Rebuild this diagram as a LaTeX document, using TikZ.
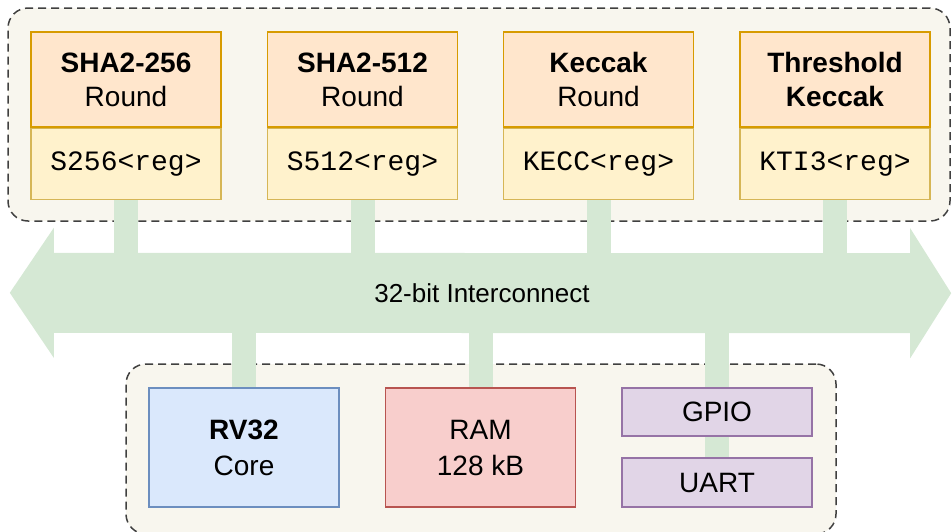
\documentclass[tikz,border=0pt]{standalone}
\usepackage{fontspec}
\setmainfont{Liberation Sans}
\setmonofont{Liberation Mono}
\usetikzlibrary{positioning,backgrounds}
\definecolor{grpfill}{HTML}{F8F6EE}
\definecolor{busgreen}{HTML}{D5E8D4}
\definecolor{hdrfill}{HTML}{FFE6CC}
\definecolor{hdrline}{HTML}{D79B00}
\definecolor{regfill}{HTML}{FFF2CC}
\definecolor{regline}{HTML}{D6B656}
\definecolor{cpufill}{HTML}{DAE8FC}
\definecolor{cpuline}{HTML}{6C8EBF}
\definecolor{ramfill}{HTML}{F8CECC}
\definecolor{ramline}{HTML}{B85450}
\definecolor{perfill}{HTML}{E1D5E7}
\definecolor{perline}{HTML}{9673A6}
\tikzset{
  group/.style={draw=black!75, fill=grpfill, dash pattern=on 8pt off 5pt, line width=1.5pt, rounded corners=20pt},
  hdr/.style={draw=hdrline, fill=hdrfill, line width=1.5pt, minimum width=190pt, minimum height=95pt, inner sep=0pt, align=center, font=\fontsize{28}{34}\selectfont},
  regs/.style={draw=regline, fill=regfill, line width=1.5pt, minimum width=190pt, minimum height=71pt, inner sep=0pt, font=\fontsize{28}{34}\ttfamily},
  blk/.style={line width=1.5pt, minimum width=190pt, inner sep=0pt, align=center, font=\fontsize{28}{36}\selectfont},
  stem/.style={draw=busgreen, line width=24pt},
  bus/.style={minimum width=856pt, minimum height=80pt, inner sep=0pt, font=\fontsize{26}{32}\selectfont}
}
\begin{document}
\begin{tikzpicture}[x=1pt,y=-1pt]
\useasboundingbox (0,0) rectangle (952,531);
\node[group, minimum width=942pt, minimum height=213pt] (accel) at (479,114.5) {};
\node[group, minimum width=710pt, minimum height=170pt] (soc) at (481,449) {};
\node[bus] (bus) at (482,293) {32-bit Interconnect};
\begin{scope}[on background layer]
\fill[busgreen] (bus.north west) -- ++(0,-25) -- ++(-44,65) -- ++(44,65) -- ++(0,-25)
  -- (bus.south east) -- ++(0,25) -- ++(41,-65) -- ++(-41,-65) -- ++(0,25) -- cycle;
\end{scope}
\node[hdr] (shaA) at (126,79.5) {\bfseries SHA2-256\\Round};
\node[regs, below=0pt of shaA] (shaAreg) {S256<reg>};
\node[hdr] (shaB) at (362.5,79.5) {\bfseries SHA2-512\\Round};
\node[regs, below=0pt of shaB] (shaBreg) {S512<reg>};
\node[hdr] (kecc) at (598.5,79.5) {\bfseries Keccak\\Round};
\node[regs, below=0pt of kecc] (keccreg) {KECC<reg>};
\node[hdr] (kti) at (835,79.5) {\bfseries Threshold\\\bfseries Keccak};
\node[regs, below=0pt of kti] (ktireg) {KTI3<reg>};
\draw[stem] (shaAreg.south) -- (shaAreg.south |- bus.north);
\draw[stem] (shaBreg.south) -- (shaBreg.south |- bus.north);
\draw[stem] (keccreg.south) -- (keccreg.south |- bus.north);
\draw[stem] (ktireg.south) -- (ktireg.south |- bus.north);
\coordinate (cpustem) at (244,388);
\coordinate (ramstem) at (481,388);
\coordinate (gpiostem) at (717,388);
\draw[stem] (bus.south -| cpustem) -- (cpustem);
\draw[stem] (bus.south -| ramstem) -- (ramstem);
\draw[stem] (bus.south -| gpiostem) -- (gpiostem);
\node[blk, draw=cpuline, fill=cpufill, minimum height=119pt] (cpu) at (244,447.5) {\bfseries RV32\\Core};
\node[blk, draw=ramline, fill=ramfill, minimum height=119pt] (ram) at (480.5,447.5) {RAM\\128 kB};
\node[blk, draw=perline, fill=perfill, minimum height=48pt] (gpio) at (717,412) {GPIO};
\node[blk, draw=perline, fill=perfill, minimum height=49pt] (uart) at (717,482.5) {UART};
\draw[stem] (gpio.south) -- (uart.north);
\end{tikzpicture}
\end{document}
